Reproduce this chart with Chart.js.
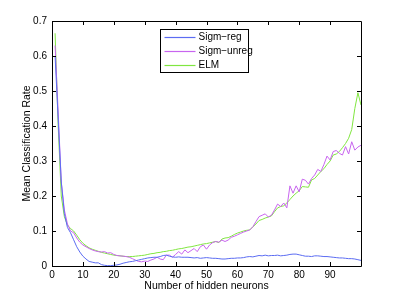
<!DOCTYPE html>
<html>
<head>
<meta charset="utf-8">
<script src="https://cdn.jsdelivr.net/npm/chart.js@4/dist/chart.umd.min.js"></script>
<style>
html,body{margin:0;padding:0;background:#fff;}
#wrap{width:399px;height:300px;position:relative;}
</style>
</head>
<body>
<div id="wrap"><canvas id="c" width="399" height="300"></canvas></div>
<script>
const neurons = Array.from({length: 100}, (_, i) => i + 1);
const seriesNames = ['Sigm\u2212reg', 'Sigm\u2212unreg', 'ELM'];
const sigmReg = [
0.60,0.42,0.24,0.15,0.11,0.095,0.075,0.055,0.04,0.028,
0.02,0.013,0.011,0.009,0.009,0.004,0.002,0.001,0.001,0.002,
0.003,0.005,0.008,0.01,0.012,0.013,0.015,0.017,0.019,0.021,
0.023,0.024,0.025,0.025,0.027,0.03,0.031,0.028,0.026,0.025,
0.026,0.025,0.025,0.025,0.024,0.023,0.024,0.022,0.023,0.024,
0.023,0.022,0.022,0.021,0.02,0.02,0.021,0.022,0.022,0.023,
0.023,0.024,0.026,0.027,0.026,0.028,0.03,0.029,0.031,0.029,
0.03,0.03,0.031,0.029,0.03,0.031,0.033,0.034,0.034,0.032,
0.03,0.028,0.028,0.027,0.029,0.029,0.028,0.027,0.027,0.026,
0.025,0.024,0.023,0.023,0.022,0.021,0.021,0.02,0.018,0.016];
const sigmUnreg = [
0.63,0.44,0.24,0.16,0.12,0.10,0.095,0.08,0.068,0.06,
0.055,0.05,0.046,0.043,0.041,0.04,0.041,0.037,0.038,0.033,
0.03,0.029,0.028,0.027,0.025,0.021,0.017,0.013,0.012,0.014,
0.013,0.017,0.02,0.025,0.02,0.018,0.031,0.031,0.025,0.033,
0.041,0.034,0.046,0.038,0.044,0.05,0.041,0.055,0.06,0.048,
0.06,0.067,0.07,0.068,0.074,0.07,0.074,0.082,0.085,0.089,
0.093,0.097,0.1,0.103,0.112,0.127,0.141,0.145,0.149,0.14,
0.145,0.16,0.177,0.17,0.18,0.166,0.229,0.208,0.229,0.212,
0.248,0.245,0.234,0.25,0.26,0.276,0.27,0.29,0.314,0.303,
0.327,0.33,0.322,0.317,0.341,0.32,0.355,0.331,0.34,0.345];
const elm = [
0.665,0.40,0.20,0.141,0.117,0.107,0.10,0.088,0.075,0.065,
0.058,0.052,0.048,0.045,0.042,0.039,0.037,0.035,0.033,0.031,
0.03,0.029,0.028,0.027,0.027,0.027,0.028,0.029,0.03,0.031,
0.033,0.035,0.036,0.038,0.039,0.041,0.042,0.044,0.045,0.047,
0.049,0.05,0.052,0.054,0.055,0.057,0.059,0.061,0.063,0.064,
0.066,0.068,0.07,0.067,0.077,0.08,0.081,0.085,0.09,0.094,
0.097,0.1,0.102,0.103,0.112,0.12,0.13,0.133,0.137,0.14,
0.143,0.155,0.166,0.17,0.172,0.18,0.19,0.2,0.208,0.215,
0.227,0.226,0.225,0.246,0.25,0.26,0.27,0.278,0.29,0.3,
0.317,0.32,0.327,0.338,0.35,0.365,0.39,0.45,0.495,0.46];
const xTicks = [0,10,20,30,40,50,60,70,80,90];
const yTicks = [0,0.1,0.2,0.3,0.4,0.5,0.6,0.7];
const xTitle = 'Number of hidden neurons';
const yTitle = 'Mean Classification Rate';

const colors = ['#5b6cf2', '#c865ef', '#80e640'];
const FONT = 'Liberation Sans, Arial, Helvetica, sans-serif';

function pts(arr){ return neurons.map((n,i)=>({x:n,y:arr[i]})); }

const boxTicks = {
  id: 'boxTicks',
  afterDraw(chart){
    const {ctx, chartArea:a, scales} = chart;
    ctx.save();
    ctx.strokeStyle = '#000';
    ctx.lineWidth = 1;
    ctx.beginPath();
    ctx.rect(Math.round(a.left)+0.5, Math.round(a.top)+0.5, Math.round(a.right-a.left), Math.round(a.bottom-a.top));
    ctx.stroke();
    const L = 4;
    ctx.beginPath();
    xTicks.forEach(v=>{
      const px = Math.round(scales.x.getPixelForValue(v))+0.5;
      ctx.moveTo(px, a.bottom); ctx.lineTo(px, a.bottom-L);
      ctx.moveTo(px, a.top); ctx.lineTo(px, a.top+L);
    });
    yTicks.forEach(v=>{
      const py = Math.round(scales.y.getPixelForValue(v))+0.5;
      ctx.moveTo(a.left, py); ctx.lineTo(a.left+L, py);
      ctx.moveTo(a.right, py); ctx.lineTo(a.right-L, py);
    });
    ctx.stroke();
    // legend box
    const lx = Math.round(a.left + 108)+0.5, ly = Math.round(a.top + 8)+0.5, lw = 88, lh = 43;
    ctx.fillStyle = '#fff';
    ctx.fillRect(lx, ly, lw, lh);
    ctx.strokeStyle = '#000';
    ctx.strokeRect(lx, ly, lw, lh);
    ctx.font = '10px ' + FONT;
    ctx.textBaseline = 'middle';
    ctx.textAlign = 'left';
    seriesNames.forEach((name, i)=>{
      const ry = Math.round(ly + 7 + i*14) + 0.5;
      ctx.strokeStyle = colors[i];
      ctx.lineWidth = 1.2;
      ctx.beginPath();
      ctx.moveTo(lx+4, ry);
      ctx.lineTo(lx+35, ry);
      ctx.stroke();
      ctx.fillStyle = '#000';
      ctx.fillText(name, lx+38, ry);
    });
    ctx.restore();
  }
};

new Chart(document.getElementById('c'), {
  type: 'line',
  data: {
    datasets: [
      {label: seriesNames[0], data: pts(sigmReg), borderColor: colors[0]},
      {label: seriesNames[1], data: pts(sigmUnreg), borderColor: colors[1]},
      {label: seriesNames[2], data: pts(elm), borderColor: colors[2]}
    ]
  },
  options: {
    responsive: false,
    animation: false,
    devicePixelRatio: 1,
    layout: {padding: {top: 21, right: 38, left: 21, bottom: 8}},
    elements: {line: {borderWidth: 1, tension: 0}, point: {radius: 0}},
    plugins: {legend: {display: false}, tooltip: {enabled: false}},
    scales: {
      x: {
        type: 'linear', min: 0, max: 100,
        afterBuildTicks: s => { s.ticks = xTicks.map(v=>({value:v})); },
        afterFit: s => { s.height = 26; },
        grid: {display: false, drawTicks: false},
        border: {display: false},
        ticks: {color: '#000', font: {family: FONT, size: 10}, padding: 3, maxRotation: 0, autoSkip: false},
        title: {display: true, text: xTitle, color: '#000', font: {family: FONT, size: 10.5}, padding: {top: 0, bottom: 0}}
      },
      y: {
        type: 'linear', min: 0, max: 0.7,
        afterBuildTicks: s => { s.ticks = yTicks.map(v=>({value:v})); },
        afterFit: s => { s.width = 31; },
        grid: {display: false, drawTicks: false},
        border: {display: false},
        ticks: {color: '#000', font: {family: FONT, size: 10}, padding: 5, callback: v => String(Math.round(v*10)/10), autoSkip: false},
        title: {display: true, text: yTitle, color: '#000', font: {family: FONT, size: 10.5}, padding: {top: 0, bottom: 0}}
      }
    }
  },
  plugins: [boxTicks]
});
</script>
</body>
</html>
